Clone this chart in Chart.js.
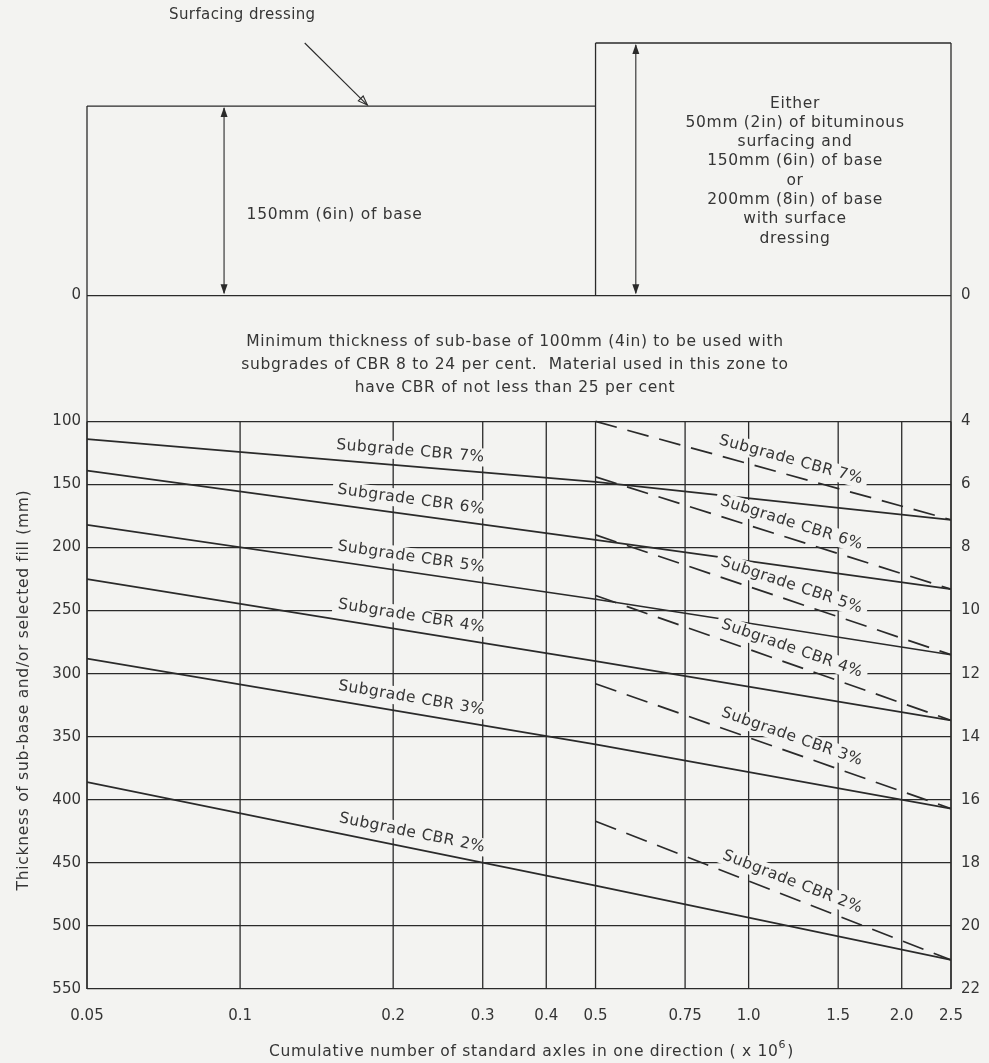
<!DOCTYPE html>
<html>
<head>
<meta charset="utf-8">
<title>Sub-base thickness design chart</title>
<script src="https://cdn.jsdelivr.net/npm/chart.js@4.4.1/dist/chart.umd.min.js"></script>
<style>
  html, body { margin: 0; padding: 0; background: #f3f3f1; }
  #wrap { width: 989px; height: 1063px; }
</style>
</head>
<body>
<div id="wrap"><canvas id="canvas" width="989" height="1063"></canvas></div>
<script>
// ---- data ----
const xTicks = [0.05, 0.1, 0.2, 0.3, 0.4, 0.5, 0.75, 1.0, 1.5, 2.0, 2.5];
const xTickLabels = ['0.05', '0.1', '0.2', '0.3', '0.4', '0.5', '0.75', '1.0', '1.5', '2.0', '2.5'];
const mmTicks = [0, 100, 150, 200, 250, 300, 350, 400, 450, 500, 550];
const inTicks = [0, 4, 6, 8, 10, 12, 14, 16, 18, 20, 22];
const cbrNames = ['7%', '6%', '5%', '4%', '3%', '2%'];

// solid lines: whole range
const solidX = [0.05, 0.5, 2.5];
const solid7 = [114, 148, 178];
const solid6 = [139, 194, 233];
const solid5 = [182, 241, 285];
const solid4 = [225, 290, 337];
const solid3 = [288, 356, 407];
const solid2 = [386, 468, 527];

// dashed lines: from 0.5 million axles
const dashedX = [0.5, 2.5];
const dashed7 = [100, 178];
const dashed6 = [144, 233];
const dashed5 = [190, 285];
const dashed4 = [238, 337];
const dashed3 = [308, 407];
const dashed2 = [417, 527];

const solidSeries = [solid7, solid6, solid5, solid4, solid3, solid2];
const dashedSeries = [dashed7, dashed6, dashed5, dashed4, dashed3, dashed2];

const INK = '#2a2a2a';
const TEXT = '#353535';
const PAPER = '#f3f3f1';
const FONT = '"DejaVu Sans", sans-serif';
const TXT = 15.5;   // annotation font size
const SP = 0.7;     // annotation letter spacing

function pts(xs, ys) {
  return xs.map((x, i) => ({ x: x, y: ys[i] }));
}

const datasets = [];
solidSeries.forEach((s, i) => {
  datasets.push({
    label: 'Subgrade CBR ' + cbrNames[i],
    data: pts(solidX, s),
    borderColor: INK, borderWidth: 1.7, pointRadius: 0, fill: false, tension: 0
  });
});
dashedSeries.forEach((s, i) => {
  datasets.push({
    label: 'Subgrade CBR ' + cbrNames[i] + ' (dashed)',
    data: pts(dashedX, s),
    borderColor: INK, borderWidth: 1.7, borderDash: [22, 11], pointRadius: 0, fill: false, tension: 0
  });
});

// ---- drawing helpers ----
function line(ctx, x1, y1, x2, y2) {
  ctx.beginPath();
  ctx.moveTo(x1, y1);
  ctx.lineTo(x2, y2);
  ctx.stroke();
}
function head(ctx, x, y, dir) {
  // small filled arrow head pointing up (dir=-1) or down (dir=1)
  ctx.beginPath();
  ctx.moveTo(x, y);
  ctx.lineTo(x - 3.5, y - dir * 10);
  ctx.lineTo(x + 3.5, y - dir * 10);
  ctx.closePath();
  ctx.fill();
}
function text(ctx, str, x, y, size, align, spacing) {
  ctx.font = size + 'px ' + FONT;
  ctx.letterSpacing = (spacing || 0) + 'px';
  ctx.textAlign = align || 'center';
  ctx.textBaseline = 'middle';
  ctx.fillText(str, x, y);
  ctx.letterSpacing = '0px';
}

// position of a dataset line at a given x, from the library's point elements
function lineAt(chart, dsIndex, xVal) {
  const els = chart.getDatasetMeta(dsIndex).data;
  const px = chart.scales.x.getPixelForValue(xVal);
  for (let i = 0; i < els.length - 1; i++) {
    const a = els[i], b = els[i + 1];
    if (px >= a.x && px <= b.x) {
      const t = (px - a.x) / (b.x - a.x);
      return { x: px, y: a.y + t * (b.y - a.y), ang: Math.atan2(b.y - a.y, b.x - a.x) };
    }
  }
  return null;
}

const paper = {
  id: 'paper',
  beforeDraw(chart) {
    const ctx = chart.ctx;
    ctx.save();
    ctx.fillStyle = PAPER;
    ctx.fillRect(0, 0, chart.width, chart.height);
    ctx.restore();
  },
  beforeDatasetsDraw(chart) {
    const ctx = chart.ctx, X = chart.scales.x, Y = chart.scales.y;
    ctx.save();
    ctx.strokeStyle = INK;
    ctx.fillStyle = INK;
    ctx.lineWidth = 1.3;
    // vertical grid only in the graph zone (100 - 550 mm)
    xTicks.forEach(v => {
      const x = X.getPixelForValue(v);
      line(ctx, x, Y.getPixelForValue(100), x, Y.getPixelForValue(550));
    });
    const xl = X.getPixelForValue(0.05), xm = X.getPixelForValue(0.5), xr = X.getPixelForValue(2.5);
    const y0 = Y.getPixelForValue(0), y150 = Y.getPixelForValue(-150), y200 = Y.getPixelForValue(-200);
    const yb = Y.getPixelForValue(550);
    // frame and base boxes
    line(ctx, xl, y150, xl, yb);
    line(ctx, xr, y200, xr, yb);
    line(ctx, xl, y150, xm, y150);
    line(ctx, xm, y200, xr, y200);
    line(ctx, xm, y200, xm, y0);
    // thickness arrows
    ctx.lineWidth = 1.1;
    const xa = X.getPixelForValue(0.093), xb = X.getPixelForValue(0.6);
    line(ctx, xa, y150 + 2, xa, y0 - 2);
    head(ctx, xa, y150 + 1, -1);
    head(ctx, xa, y0 - 1, 1);
    line(ctx, xb, y200 + 2, xb, y0 - 2);
    head(ctx, xb, y200 + 1, -1);
    head(ctx, xb, y0 - 1, 1);
    ctx.restore();
  },
  afterDatasetsDraw(chart) {
    const ctx = chart.ctx, X = chart.scales.x, Y = chart.scales.y;
    ctx.save();
    // curve labels with paper-coloured backing, following each line
    const labelFont = 15.5;
    for (let i = 0; i < 12; i++) {
      const xVal = i < 6 ? 0.215 : 1.19;
      const p = lineAt(chart, i, xVal);
      if (!p) continue;
      const str = 'Subgrade CBR ' + cbrNames[i % 6];
      ctx.save();
      ctx.translate(p.x + 15 * Math.sin(p.ang), p.y - 15 * Math.cos(p.ang));
      ctx.rotate(p.ang);
      ctx.font = labelFont + 'px ' + FONT;
      ctx.letterSpacing = '0.5px';
      const w = ctx.measureText(str).width;
      ctx.fillStyle = PAPER;
      ctx.fillRect(-w / 2 - 5, -9, w + 10, 18);
      ctx.fillStyle = TEXT;
      text(ctx, str, 0, 0, labelFont, 'center', 0.5);
      ctx.restore();
    }

    ctx.fillStyle = TEXT;
    ctx.strokeStyle = INK;
    // left base box
    text(ctx, '150mm (6in) of base', X.getPixelForValue(0.103), Y.getPixelForValue(-64), TXT, 'left', SP);
    // right base box
    const rightLines = ['Either', '50mm (2in) of bituminous', 'surfacing and', '150mm (6in) of base',
      'or', '200mm (8in) of base', 'with surface', 'dressing'];
    const rx = X.getPixelForValue(1.234), ry = Y.getPixelForValue(-152);
    rightLines.forEach((s, k) => text(ctx, s, rx, ry + k * 19.3, TXT, 'center', SP));
    // sub-base zone
    const mx = (chart.chartArea.left + chart.chartArea.right) / 2 - 4;
    const zone = ['Minimum thickness of sub-base of 100mm (4in) to be used with',
      'subgrades of CBR 8 to 24 per cent.  Material used in this zone to',
      'have CBR of not less than 25 per cent'];
    zone.forEach((s, k) => text(ctx, s, mx, Y.getPixelForValue(37) + k * 23, TXT, 'center', SP));

    // surfacing dressing pointer
    text(ctx, 'Surfacing dressing', X.getPixelForValue(0.101), Y.getPixelForValue(-222), 15, 'center', 0.4);
    const sx1 = X.getPixelForValue(0.134), sy1 = Y.getPixelForValue(-200);
    const sx2 = X.getPixelForValue(0.178), sy2 = Y.getPixelForValue(-150) - 1;
    ctx.lineWidth = 1.1;
    line(ctx, sx1, sy1, sx2, sy2);
    const a = Math.atan2(sy2 - sy1, sx2 - sx1);
    ctx.beginPath();
    ctx.moveTo(sx2, sy2);
    ctx.lineTo(sx2 - 10 * Math.cos(a - 0.35), sy2 - 10 * Math.sin(a - 0.35));
    ctx.lineTo(sx2 - 10 * Math.cos(a + 0.35), sy2 - 10 * Math.sin(a + 0.35));
    ctx.closePath();
    ctx.stroke();
    ctx.restore();
  },
  afterDraw(chart) {
    const ctx = chart.ctx, Y = chart.scales.y;
    ctx.save();
    ctx.fillStyle = TEXT;
    // y axis title
    ctx.translate(24, Y.getPixelForValue(313));
    ctx.rotate(-Math.PI / 2);
    text(ctx, 'Thickness of sub-base and/or selected fill (mm)', 0, 0, TXT, 'center', SP);
    ctx.restore();
    // x axis title with superscript
    ctx.save();
    ctx.fillStyle = TEXT;
    const main = 'Cumulative number of standard axles in one direction ( x 10';
    ctx.font = TXT + 'px ' + FONT;
    ctx.letterSpacing = SP + 'px';
    const w1 = ctx.measureText(main).width;
    ctx.font = '11px ' + FONT;
    const w2 = ctx.measureText('6').width;
    ctx.font = TXT + 'px ' + FONT;
    const w3 = ctx.measureText(')').width;
    ctx.letterSpacing = '0px';
    const start = 531 - (w1 + w2 + w3) / 2;
    const ty = 1052;
    text(ctx, main, start, ty, TXT, 'left', SP);
    text(ctx, '6', start + w1, ty - 7, 11, 'left', 0);
    text(ctx, ')', start + w1 + w2 + 1, ty, TXT, 'left', SP);
    ctx.restore();
  }
};

const tickFont = { family: FONT, size: 15 };

new Chart(document.getElementById('canvas').getContext('2d'), {
  type: 'line',
  data: { datasets: datasets },
  plugins: [paper],
  options: {
    responsive: false,
    animation: false,
    layout: { padding: { top: 43, left: 0, right: 0, bottom: 0 } },
    plugins: { legend: { display: false }, tooltip: { enabled: false } },
    scales: {
      x: {
        type: 'logarithmic',
        min: 0.05,
        max: 2.5,
        afterBuildTicks: s => { s.ticks = xTicks.map(v => ({ value: v })); },
        afterFit: s => { s.height = 74; },
        ticks: {
          autoSkip: false, maxRotation: 0, padding: 10, color: TEXT, font: tickFont,
          callback: (v, i) => xTickLabels[i]
        },
        grid: { display: false },
        border: { display: false }
      },
      y: {
        type: 'linear',
        position: 'left',
        reverse: true,
        min: -200,
        max: 550,
        afterBuildTicks: s => { s.ticks = mmTicks.map(v => ({ value: v })); },
        afterFit: s => { s.width = 87; },
        ticks: { padding: 6, color: TEXT, font: tickFont, callback: v => String(v) },
        grid: { color: INK, lineWidth: 1.3, drawTicks: false },
        border: { display: false }
      },
      y2: {
        type: 'linear',
        position: 'right',
        reverse: true,
        min: -8,
        max: 22,
        afterBuildTicks: s => { s.ticks = inTicks.map(v => ({ value: v })); },
        afterFit: s => { s.width = 38; },
        ticks: { padding: 10, color: TEXT, font: tickFont, callback: v => String(v) },
        grid: { drawOnChartArea: false, drawTicks: false },
        border: { display: false }
      }
    }
  }
});
</script>
</body>
</html>
